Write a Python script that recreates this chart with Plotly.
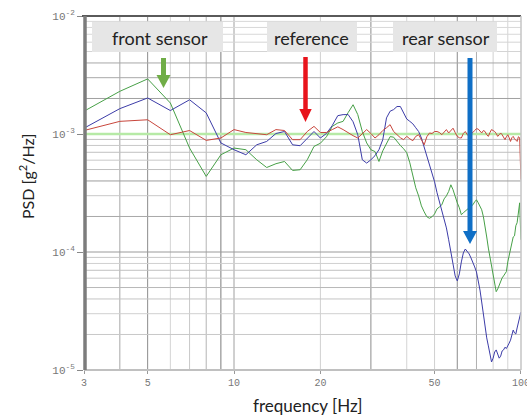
import math
import plotly.graph_objects as go

# ---------------- data ----------------
freq = [3, 4, 5, 6, 7, 8, 9, 10, 11, 12, 13, 14, 15, 16, 17, 18, 19, 20,
        21, 22, 23, 24, 25, 26, 27, 28, 29, 30, 31, 32, 33, 34, 35, 36, 37, 38,
        39, 40, 41, 42, 43, 44, 45, 46, 47, 48, 49, 50, 51, 52, 53, 54, 55, 56,
        57, 58, 59, 60, 61, 62, 63, 64, 65, 66, 67, 68, 69, 70, 71, 72, 73, 74,
        75, 76, 77, 78, 79, 80, 81, 82, 83, 84, 85, 86, 87, 88, 89, 90, 91, 92,
        93, 94, 95, 96, 97, 98, 99, 100]

psd_front = [1.56e-3, 2.30e-3, 2.93e-3, 1.83e-3, 7.6e-4, 4.37e-4, 6.67e-4, 7.6e-4,
             7.36e-4, 6.05e-4, 5.2e-4, 5.6e-4, 5.85e-4, 4.91e-4, 4.98e-4, 6.05e-4,
             7.85e-4, 8.35e-4, 9.48e-4, 1.16e-3, 1.24e-3, 1.28e-3, 1.52e-3, 1.77e-3,
             1.46e-3, 1.05e-3, 8.4e-4, 7.36e-4, 7.1e-4, 5.85e-4, 7.2e-4, 8.4e-4,
             9.5e-4, 9.4e-4, 8.6e-4, 8.0e-4, 7.5e-4, 6.94e-4, 5.7e-4, 4.43e-4,
             3.5e-4, 2.99e-4, 2.46e-4, 2.19e-4, 1.99e-4, 1.93e-4, 1.99e-4, 2.1e-4,
             2.32e-4, 2.41e-4, 2.51e-4, 2.82e-4, 2.99e-4, 3.26e-4, 3.71e-4, 3.37e-4,
             2.94e-4, 2.61e-4, 2.37e-4, 2.07e-4, 2.15e-4, 2.23e-4, 2.32e-4, 2.37e-4,
             2.43e-4, 2.51e-4, 2.66e-4, 2.77e-4, 2.61e-4, 2.41e-4, 2.28e-4, 1.99e-4,
             1.67e-4, 1.34e-4, 1.08e-4, 8.9e-5, 7.6e-5, 6.4e-5, 5.36e-5, 4.61e-5,
             4.85e-5, 5.26e-5, 5.69e-5, 6.03e-5, 6.27e-5, 6.65e-5, 6.82e-5, 8.24e-5,
             9.44e-5, 1.04e-4, 1.19e-4, 1.34e-4, 1.37e-4, 1.67e-4, 1.77e-4, 2.19e-4,
             2.61e-4, 1.27e-4]

psd_rear = [1.12e-3, 1.64e-3, 2.02e-3, 1.58e-3, 1.95e-3, 1.51e-3, 8.4e-4, 7.36e-4,
            6.67e-4, 8.1e-4, 8.65e-4, 1.01e-3, 1.05e-3, 8.1e-4, 7.96e-4, 9.1e-4,
            1.05e-3, 9.25e-4, 1.01e-3, 1.18e-3, 1.43e-3, 1.46e-3, 1.46e-3, 1.27e-3,
            9.86e-4, 6.05e-4, 5.67e-4, 6.05e-4, 6.55e-4, 7.36e-4, 8.95e-4, 1.37e-3,
            1.56e-3, 1.61e-3, 1.71e-3, 1.71e-3, 1.49e-3, 1.34e-3, 1.28e-3, 1.22e-3,
            1.13e-3, 1.05e-3, 9.25e-4, 7.8e-4, 6.3e-4, 5.38e-4, 4.6e-4, 3.94e-4,
            3.18e-4, 2.66e-4, 2.19e-4, 1.87e-4, 1.6e-4, 1.27e-4, 1.0e-4, 7.8e-5,
            6.27e-5, 5.69e-5, 6.52e-5, 8.24e-5, 9.82e-5, 1.06e-4, 1.02e-4, 9.64e-5,
            8.9e-5, 8.24e-5, 7.47e-5, 6.78e-5, 5.8e-5, 4.76e-5, 3.77e-5, 2.92e-5,
            2.31e-5, 1.87e-5, 1.6e-5, 1.34e-5, 1.17e-5, 1.26e-5, 1.42e-5, 1.48e-5,
            1.36e-5, 1.26e-5, 1.31e-5, 1.45e-5, 1.48e-5, 1.56e-5, 1.52e-5, 1.63e-5,
            1.69e-5, 1.79e-5, 1.98e-5, 2.18e-5, 2.06e-5, 2.02e-5, 2.27e-5, 2.55e-5,
            2.92e-5, 3.1e-5]

psd_reference = [1.07e-3, 1.28e-3, 1.32e-3, 9.86e-4, 1.07e-3, 8.83e-4, 9.25e-4, 1.09e-3,
                 1.03e-3, 1.01e-3, 9.86e-4, 1.09e-3, 1.07e-3, 8.95e-4, 8.95e-4, 1.05e-3,
                 1.16e-3, 1.03e-3, 1.03e-3, 1.09e-3, 1.15e-3, 1.09e-3, 1.02e-3, 9.68e-4,
                 9.25e-4, 1.01e-3, 1.09e-3, 1.01e-3, 9.25e-4, 9.86e-4, 1.07e-3, 1.13e-3,
                 1.2e-3, 1.05e-3, 9.86e-4, 9.3e-4, 8.95e-4, 9.55e-4, 9.1e-4, 8.77e-4,
                 9.55e-4, 9.86e-4, 8.95e-4, 8.1e-4, 9.48e-4, 1.02e-3, 1.01e-3, 1.05e-3,
                 1.05e-3, 1.03e-3, 9.86e-4, 1.03e-3, 1.09e-3, 1.02e-3, 1.07e-3, 1.12e-3,
                 1.03e-3, 9.55e-4, 9.3e-4, 9.25e-4, 1.01e-3, 1.05e-3, 9.86e-4, 9.55e-4,
                 1.01e-3, 1.03e-3, 1.07e-3, 1.11e-3, 1.10e-3, 1.05e-3, 1.02e-3, 1.07e-3,
                 1.05e-3, 9.86e-4, 9.55e-4, 1.03e-3, 1.09e-3, 1.07e-3, 1.05e-3, 1.01e-3,
                 9.55e-4, 9.86e-4, 1.02e-3, 9.86e-4, 9.3e-4, 8.95e-4, 9.48e-4, 9.86e-4,
                 9.3e-4, 8.65e-4, 9.3e-4, 9.55e-4, 9.1e-4, 8.77e-4, 8.65e-4, 9.48e-4,
                 9.3e-4, 4.1e-4]

ref_level_freq = [3, 100]
ref_level = [1e-3, 1e-3]

x_tick_vals = [3, 5, 10, 20, 50, 100]
x_tick_text = ["3", "5", "10", "20", "50", "100"]
y_tick_vals = [1e-5, 1e-4, 1e-3, 1e-2]
y_tick_text = ["10<sup>-5</sup>", "10<sup>-4</sup>", "10<sup>-3</sup>", "10<sup>-2</sup>"]

x_grid_vals = [4, 5, 6, 7, 8, 9, 10, 20, 30, 40, 50, 60, 70, 80, 90]
x_grid_colors = ["#a8a8a8", "#8c8c8c", "#d4d4d4", "#c8c8c8", "#b4b4b4", "#7c7c7c",
                 "#a0a0a0", "#d0d0d0", "#8c8c8c", "#d4d4d4", "#d0d0d0", "#8c8c8c",
                 "#b0b0b0", "#d0d0d0", "#d4d4d4"]
y_grid_vals = [2e-5, 3e-5, 4e-5, 5e-5, 6e-5, 7e-5, 8e-5, 9e-5, 1e-4,
               2e-4, 3e-4, 4e-4, 5e-4, 6e-4, 7e-4, 8e-4, 9e-4, 1e-3,
               2e-3, 3e-3, 4e-3, 5e-3, 6e-3, 7e-3, 8e-3, 9e-3]
y_grid_colors = ["#c8c8c8", "#d0d0d0", "#c4c4c4", "#b8b8b8", "#c8c8c8", "#c0c0c0", "#d0d0d0", "#c8c8c8", "#9a9a9a",
                 "#a8a8a8", "#c8c8c8", "#9c9c9c", "#c0c0c0", "#c8c8c8", "#c0c0c0", "#c8c8c8", "#c0c0c0", "#9a9a9a",
                 "#a0a0a0", "#a8a8a8", "#a8a8a8", "#d4d4d4", "#d4d4d4", "#d8d8d8", "#d8d8d8", "#d8d8d8"]

# ---------------- layout geometry ----------------
W, H = 527, 417
ML, MR, MT, MB = 84, 6, 16, 47
PW, PH = W - ML - MR, H - MT - MB


def px(x):
    return (x - ML) / PW


def py(y):
    return (H - MB - y) / PH


fig = go.Figure()

# grid lines drawn as thin traces through the axes
for v, c in zip(x_grid_vals, x_grid_colors):
    fig.add_trace(go.Scatter(x=[v, v], y=[1e-5, 1e-2], mode="lines",
                             line=dict(color=c, width=1), hoverinfo="skip", showlegend=False))
for v, c in zip(y_grid_vals, y_grid_colors):
    fig.add_trace(go.Scatter(x=[3, 100], y=[v, v], mode="lines",
                             line=dict(color=c, width=1), hoverinfo="skip", showlegend=False))

fig.add_trace(go.Scatter(x=ref_level_freq, y=ref_level, mode="lines",
                         line=dict(color="#b6eaa6", width=2.5), hoverinfo="skip",
                         showlegend=False))
fig.add_trace(go.Scatter(x=freq, y=psd_front, mode="lines", name="front sensor",
                         line=dict(color="#47a047", width=1), showlegend=False))
fig.add_trace(go.Scatter(x=freq, y=psd_rear, mode="lines", name="rear sensor",
                         line=dict(color="#3c3ca8", width=1), showlegend=False))
fig.add_trace(go.Scatter(x=freq, y=psd_reference, mode="lines", name="reference",
                         line=dict(color="#c8463c", width=1), showlegend=False))

shapes = []
# frame
shapes.append(dict(type="line", xref="paper", yref="paper", x0=px(82), x1=1, y0=1, y1=1,
                   line=dict(color="#5a5a5a", width=2)))
shapes.append(dict(type="line", xref="paper", yref="paper", x0=0, x1=1, y0=0, y1=0,
                   line=dict(color="#c0c0c0", width=2)))
shapes.append(dict(type="line", xref="paper", yref="paper", x0=1, x1=1, y0=0, y1=1,
                   line=dict(color="#c4c4c4", width=1.5)))
shapes.append(dict(type="line", xref="paper", yref="paper", x0=px(85), x1=px(85), y0=0, y1=1,
                   line=dict(color="#7c7c7c", width=3.5)))

# label boxes
boxes = [(92, 223), (267, 357), (393, 497)]
for x0, x1 in boxes:
    shapes.append(dict(type="rect", xref="paper", yref="paper", x0=px(x0), x1=px(x1),
                       y0=py(52), y1=py(22), fillcolor="#e6e6e6", line=dict(width=0)))


def arrow(cx, top, base, tip, shaft_w, head_half, color):
    shapes.append(dict(type="rect", xref="paper", yref="paper",
                       x0=px(cx - shaft_w / 2), x1=px(cx + shaft_w / 2),
                       y0=py(base + 1), y1=py(top), fillcolor=color, line=dict(width=0)))
    path = "M {} {} L {} {} L {} {} Z".format(px(cx - head_half), py(base),
                                             px(cx + head_half), py(base),
                                             px(cx), py(tip))
    shapes.append(dict(type="path", xref="paper", yref="paper", path=path,
                       fillcolor=color, line=dict(width=0)))


arrow(163.5, 58, 75, 88, 5, 7, "#70ad47")
arrow(305.5, 57, 109, 122, 4.5, 6.2, "#e8141c")
arrow(470, 58, 231, 244, 5, 7, "#0f6fc6")

annotations = [
    dict(text="front sensor", x=px(160), y=py(38)),
    dict(text="reference", x=px(311), y=py(38)),
    dict(text="rear sensor", x=px(446), y=py(38)),
]
annotations = [dict(a, xref="paper", yref="paper", showarrow=False, xanchor="center",
                    yanchor="middle", font=dict(family="Lato", size=18, color="#222222"))
               for a in annotations]
annotations.append(dict(text="PSD [g<sup>2</sup>/Hz]", x=px(26), y=py(177), xref="paper",
                        yref="paper", showarrow=False, textangle=-90, xanchor="center",
                        yanchor="middle", font=dict(family="Lato", size=16, color="#222222")))
annotations.append(dict(text="frequency [Hz]", x=px(308), y=py(405), xref="paper",
                        yref="paper", showarrow=False, xanchor="center", yanchor="middle",
                        font=dict(family="Lato", size=17, color="#222222")))

fig.update_layout(
    width=W, height=H,
    margin=dict(l=ML, r=MR, t=MT, b=MB, autoexpand=False),
    paper_bgcolor="white", plot_bgcolor="white",
    shapes=shapes, annotations=annotations,
    xaxis=dict(type="log", range=[math.log10(3), 2.0003], tickvals=x_tick_vals,
               ticktext=x_tick_text, showgrid=False, zeroline=False, showline=False,
               ticks="outside", ticklen=3, tickcolor="#999999", ticklabeloverflow="allow",
               tickfont=dict(family="Liberation Mono", size=10, color="#777777")),
    yaxis=dict(type="log", range=[-5, -2], tickvals=y_tick_vals, ticktext=y_tick_text,
               showgrid=False, zeroline=False, showline=False,
               ticks="outside", ticklen=6, tickcolor="#888888",
               tickfont=dict(family="Liberation Mono", size=11, color="#777777")),
)

fig.write_html("out.html", config={"displayModeBar": False},
               post_script="document.body.style.margin='0';")
